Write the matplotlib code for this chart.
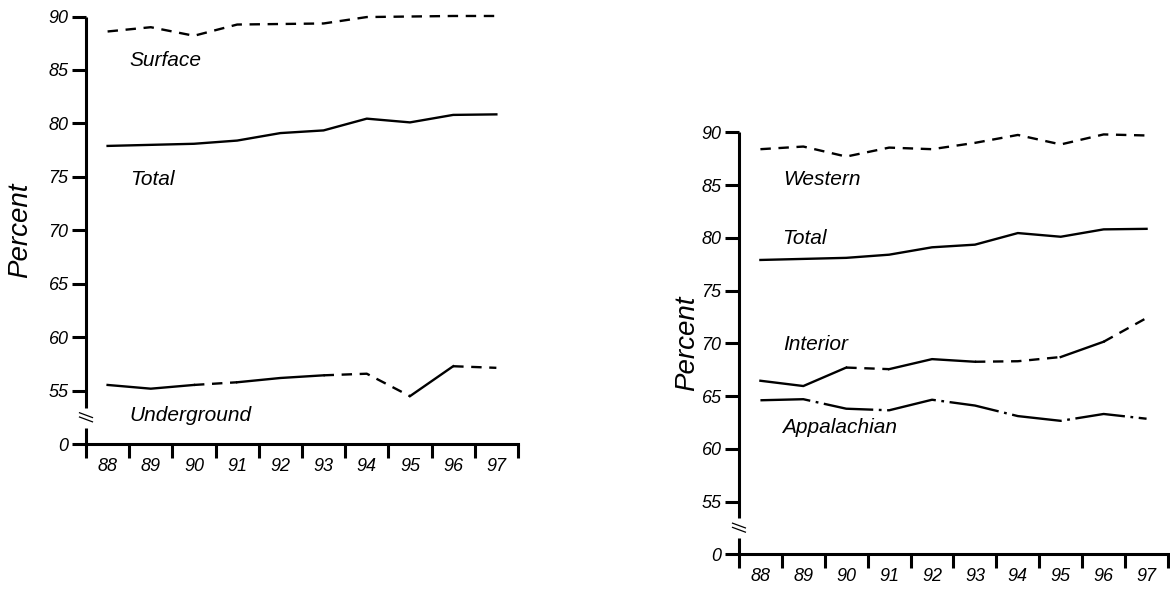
import matplotlib
matplotlib.use('Agg')
import matplotlib.pyplot as plt
import numpy as np

# Datos
years = ['88', '89', '90', '91', '92', '93', '94', '95', '96', '97']

surface = [88.6, 89.0, 88.2, 89.25, 89.3, 89.35, 89.95, 90.0, 90.05, 90.05]
total = [77.9, 78.0, 78.1, 78.4, 79.1, 79.35, 80.45, 80.1, 80.8, 80.85]
underground = [55.55, 55.2, 55.55, 55.8, 56.2, 56.45, 56.6, 54.5, 57.3, 57.15]

western = [88.4, 88.65, 87.7, 88.55, 88.4, 89.0, 89.75, 88.85, 89.8, 89.7]
interior = [66.45, 65.95, 67.7, 67.55, 68.5, 68.25, 68.3, 68.7, 70.15, 72.4]
appalachian = [64.6, 64.7, 63.8, 63.65, 64.65, 64.1, 63.1, 62.65, 63.3, 62.85]

# estilo de cada tramo (entre un año y el siguiente)
underground_seg = ['-', '-', '--', '-', '-', '--', '--', '-', '--']
interior_seg = ['-', '-', '--', '-', '-', '--', '--', '-', '--']

ytick_vals = [50, 55, 60, 65, 70, 75, 80, 85, 90]
ytick_labels = ['0', '55', '60', '65', '70', '75', '80', '85', '90']

plt.rcParams['font.family'] = ['Liberation Sans', 'DejaVu Sans']
plt.rcParams['font.style'] = 'italic'
plt.rcParams['lines.scale_dashes'] = False

DASH = (0, (7.5, 5.5))
DASHDOT = (0, (36, 4, 2, 4))
LW = 1.7


def draw_segments(ax, x, y, styles):
    x = np.asarray(x)
    y = np.asarray(y)
    start = 0
    for i in range(1, len(styles) + 1):
        if i == len(styles) or styles[i] != styles[start]:
            ls = '-' if styles[start] == '-' else DASH
            ax.plot(x[start:i + 1], y[start:i + 1], color='black', lw=LW,
                    linestyle=ls, clip_on=False)
            start = i


def setup_axes(ax, ylabel_x):
    ax.set_xlim(0, 10)
    ax.set_ylim(50, 90)
    for s in ['top', 'right', 'left']:
        ax.spines[s].set_visible(False)
    ax.spines['bottom'].set_linewidth(2.2)
    # eje y con corte
    ax.plot([0, 0], [53.4, 90], color='black', lw=2.2, clip_on=False,
            solid_capstyle='butt')
    ax.plot([0, 0], [50, 51.5], color='black', lw=2.2, clip_on=False,
            solid_capstyle='butt')
    for dy in [0.0, -0.4]:
        ax.plot([-0.15, 0.15], [52.95 + dy, 52.5 + dy], color='black', lw=0.9,
                clip_on=False)
    ax.set_yticks(ytick_vals)
    ax.set_yticklabels(ytick_labels)
    ax.tick_params(axis='y', direction='out', length=10, width=2.2, pad=2.5,
                   labelsize=13)
    ax.set_xticks(np.arange(10) + 0.5)
    ax.set_xticklabels(years)
    ax.set_xticks(np.arange(11), minor=True)
    ax.tick_params(axis='x', which='major', length=0, pad=10, labelsize=13)
    ax.tick_params(axis='x', which='minor', direction='out', length=10,
                   width=2.2)
    ax.set_ylabel('Percent', fontsize=20)
    ax.yaxis.set_label_coords(ylabel_x, 0.5)


fig = plt.figure(figsize=(11.7, 5.92), dpi=100)
ax1 = fig.add_axes([0.0735, 0.2495, 0.3692, 0.7226])
ax2 = fig.add_axes([0.6316, 0.0637, 0.3667, 0.7128])

xs = np.arange(len(years)) + 0.5

# Panel izquierdo
setup_axes(ax1, -0.123)
ax1.plot(xs, surface, color='black', lw=LW, linestyle=DASH, clip_on=False)
ax1.plot(xs, total, color='black', lw=LW, clip_on=False)
draw_segments(ax1, xs, underground, underground_seg)
ax1.text(1.0, 85.9, 'Surface', fontsize=15, va='center')
ax1.text(1.02, 74.8, 'Total', fontsize=15, va='center')
ax1.text(1.0, 52.7, 'Underground', fontsize=15, va='center')

# Panel derecho
setup_axes(ax2, -0.09)
ax2.plot(xs, western, color='black', lw=LW, linestyle=DASH, clip_on=False)
ax2.plot(xs, total, color='black', lw=LW, clip_on=False)
draw_segments(ax2, xs, interior, interior_seg)
ax2.plot(xs, appalachian, color='black', lw=LW, linestyle=DASHDOT, clip_on=False)
ax2.text(1.02, 85.55, 'Western', fontsize=15, va='center')
ax2.text(1.0, 79.95, 'Total', fontsize=15, va='center')
ax2.text(1.02, 69.85, 'Interior', fontsize=15, va='center')
ax2.text(1.0, 62.0, 'Appalachian', fontsize=15, va='center')

fig.savefig('out.png', dpi=100)
